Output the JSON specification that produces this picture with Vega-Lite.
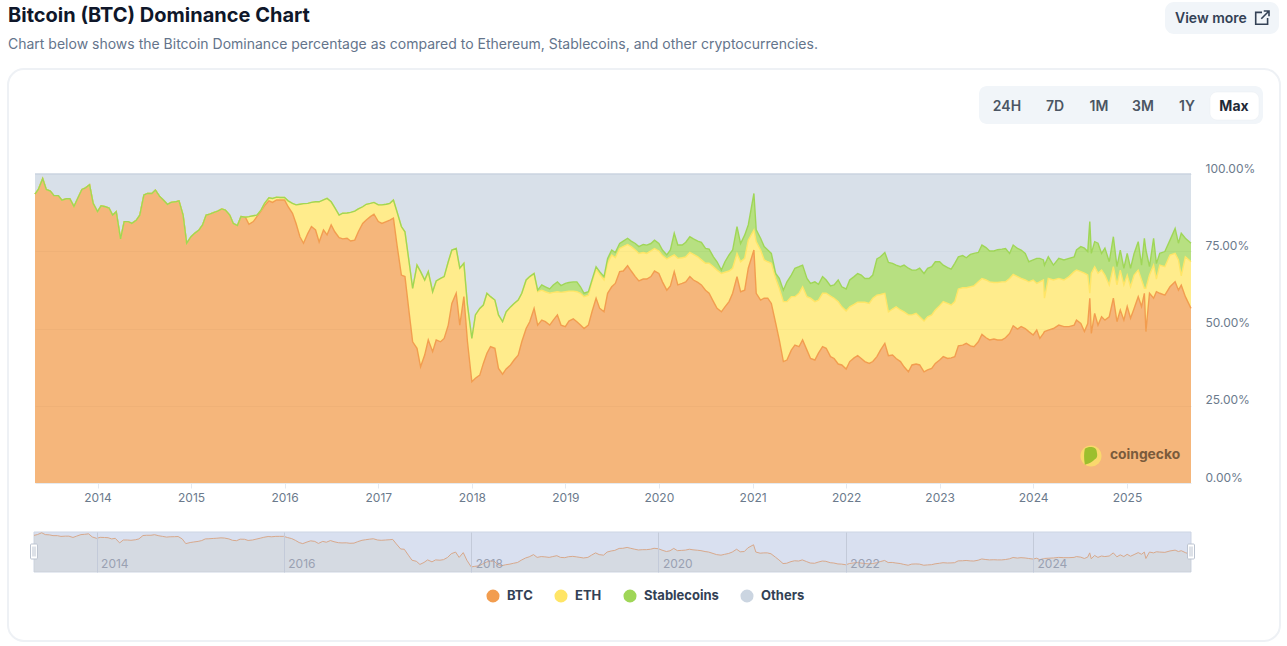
{"$schema":"https://vega.github.io/schema/vega-lite/v6.json","width":1287,"height":646,"padding":0,"autosize":"none","background":"#ffffff","config":{"font":"Inter","view":{"stroke":null}},
"datasets":{"dom":[
{"d":"2013-05-02","BTC":93.5,"ETH":0,"Stablecoins":0,"Others":6.5},{"d":"2013-05-15","BTC":95,"ETH":0,"Stablecoins":0,"Others":5},{"d":"2013-06-01","BTC":98.5,"ETH":0,"Stablecoins":0,"Others":1.5},{"d":"2013-06-15","BTC":95,"ETH":0,"Stablecoins":0,"Others":5},{"d":"2013-07-01","BTC":94.5,"ETH":0,"Stablecoins":0,"Others":5.5},{"d":"2013-07-15","BTC":93,"ETH":0,"Stablecoins":0,"Others":7},{"d":"2013-08-01","BTC":93,"ETH":0,"Stablecoins":0,"Others":7},{"d":"2013-08-15","BTC":91.5,"ETH":0,"Stablecoins":0,"Others":8.5},{"d":"2013-09-01","BTC":92,"ETH":0,"Stablecoins":0,"Others":8},{"d":"2013-09-15","BTC":92,"ETH":0,"Stablecoins":0,"Others":8},{"d":"2013-10-01","BTC":89.5,"ETH":0,"Stablecoins":0,"Others":10.5},{"d":"2013-10-15","BTC":92,"ETH":0,"Stablecoins":0,"Others":8},{"d":"2013-11-01","BTC":95,"ETH":0,"Stablecoins":0,"Others":5},{"d":"2013-11-15","BTC":95.5,"ETH":0,"Stablecoins":0,"Others":4.5},{"d":"2013-12-01","BTC":96.5,"ETH":0,"Stablecoins":0,"Others":3.5},{"d":"2013-12-15","BTC":90.5,"ETH":0,"Stablecoins":0,"Others":9.5},
{"d":"2014-01-01","BTC":87.8,"ETH":0,"Stablecoins":0,"Others":12.2},{"d":"2014-01-15","BTC":89.7,"ETH":0,"Stablecoins":0,"Others":10.3},{"d":"2014-02-01","BTC":89.4,"ETH":0,"Stablecoins":0,"Others":10.6},{"d":"2014-02-15","BTC":89,"ETH":0,"Stablecoins":0,"Others":11},{"d":"2014-03-01","BTC":86.7,"ETH":0,"Stablecoins":0,"Others":13.3},{"d":"2014-03-15","BTC":87.8,"ETH":0,"Stablecoins":0,"Others":12.2},{"d":"2014-04-01","BTC":79,"ETH":0,"Stablecoins":0,"Others":21},{"d":"2014-04-15","BTC":84.6,"ETH":0,"Stablecoins":0,"Others":15.4},{"d":"2014-05-01","BTC":84.6,"ETH":0,"Stablecoins":0,"Others":15.4},{"d":"2014-05-15","BTC":84,"ETH":0,"Stablecoins":0,"Others":16},{"d":"2014-06-01","BTC":85,"ETH":0,"Stablecoins":0,"Others":15},{"d":"2014-06-15","BTC":86.7,"ETH":0,"Stablecoins":0,"Others":13.3},{"d":"2014-07-01","BTC":93.2,"ETH":0,"Stablecoins":0,"Others":6.8},{"d":"2014-07-15","BTC":93.7,"ETH":0,"Stablecoins":0,"Others":6.3},{"d":"2014-08-01","BTC":93.7,"ETH":0,"Stablecoins":0,"Others":6.3},{"d":"2014-08-15","BTC":94.8,"ETH":0,"Stablecoins":0,"Others":5.2},{"d":"2014-09-01","BTC":92.7,"ETH":0,"Stablecoins":0,"Others":7.3},{"d":"2014-09-15","BTC":91.6,"ETH":0,"Stablecoins":0,"Others":8.4},{"d":"2014-10-01","BTC":90.2,"ETH":0,"Stablecoins":0,"Others":9.8},{"d":"2014-10-15","BTC":90.8,"ETH":0,"Stablecoins":0,"Others":9.2},{"d":"2014-11-01","BTC":91,"ETH":0,"Stablecoins":0,"Others":9},{"d":"2014-11-15","BTC":91.3,"ETH":0,"Stablecoins":0,"Others":8.7},{"d":"2014-12-01","BTC":86.7,"ETH":0,"Stablecoins":0,"Others":13.3},{"d":"2014-12-15","BTC":77.6,"ETH":0,"Stablecoins":0,"Others":22.4},
{"d":"2015-01-01","BTC":79.7,"ETH":0,"Stablecoins":0,"Others":20.3},{"d":"2015-01-15","BTC":80.8,"ETH":0,"Stablecoins":0,"Others":19.2},{"d":"2015-02-01","BTC":81.9,"ETH":0,"Stablecoins":0,"Others":18.1},{"d":"2015-02-15","BTC":83.5,"ETH":0,"Stablecoins":0,"Others":16.5},{"d":"2015-03-01","BTC":86.7,"ETH":0,"Stablecoins":0,"Others":13.3},{"d":"2015-03-15","BTC":87,"ETH":0,"Stablecoins":0,"Others":13},{"d":"2015-04-01","BTC":87.6,"ETH":0,"Stablecoins":0,"Others":12.4},{"d":"2015-04-15","BTC":88,"ETH":0,"Stablecoins":0,"Others":12},{"d":"2015-05-01","BTC":88.7,"ETH":0,"Stablecoins":0,"Others":11.3},{"d":"2015-05-15","BTC":88.3,"ETH":0,"Stablecoins":0,"Others":11.7},{"d":"2015-06-01","BTC":86.7,"ETH":0,"Stablecoins":0,"Others":13.3},{"d":"2015-06-15","BTC":84,"ETH":0,"Stablecoins":0,"Others":16},{"d":"2015-07-01","BTC":83.3,"ETH":0,"Stablecoins":0,"Others":16.7},{"d":"2015-07-15","BTC":86.2,"ETH":0,"Stablecoins":0,"Others":13.8},{"d":"2015-08-01","BTC":86,"ETH":0,"Stablecoins":0,"Others":14},{"d":"2015-08-15","BTC":83.7,"ETH":2.5,"Stablecoins":0,"Others":13.8},{"d":"2015-09-01","BTC":84.6,"ETH":1.9,"Stablecoins":0,"Others":13.5},{"d":"2015-09-15","BTC":86.2,"ETH":0.5,"Stablecoins":0,"Others":13.3},{"d":"2015-10-01","BTC":88,"ETH":0.3,"Stablecoins":0,"Others":11.7},{"d":"2015-10-15","BTC":89.8,"ETH":0.7,"Stablecoins":0,"Others":9.5},{"d":"2015-11-01","BTC":91.3,"ETH":1,"Stablecoins":0,"Others":7.7},{"d":"2015-11-15","BTC":90.8,"ETH":1.3,"Stablecoins":0,"Others":7.9},{"d":"2015-12-01","BTC":91.6,"ETH":0.9,"Stablecoins":0,"Others":7.5},{"d":"2015-12-15","BTC":91.6,"ETH":0.8,"Stablecoins":0,"Others":7.6},
{"d":"2016-01-01","BTC":91.6,"ETH":0.8,"Stablecoins":0,"Others":7.6},{"d":"2016-01-15","BTC":89.4,"ETH":1.9,"Stablecoins":0,"Others":8.7},{"d":"2016-02-01","BTC":87.3,"ETH":3.2,"Stablecoins":0,"Others":9.5},{"d":"2016-02-15","BTC":84,"ETH":6,"Stablecoins":0,"Others":10},{"d":"2016-03-01","BTC":79.7,"ETH":10.5,"Stablecoins":0,"Others":9.8},{"d":"2016-03-15","BTC":77.6,"ETH":12.8,"Stablecoins":0,"Others":9.6},{"d":"2016-04-01","BTC":80.8,"ETH":9.7,"Stablecoins":0,"Others":9.5},{"d":"2016-04-15","BTC":83,"ETH":7.8,"Stablecoins":0,"Others":9.2},{"d":"2016-05-01","BTC":81.9,"ETH":9.1,"Stablecoins":0,"Others":9},{"d":"2016-05-15","BTC":78,"ETH":13,"Stablecoins":0,"Others":9},{"d":"2016-06-01","BTC":81.9,"ETH":9.7,"Stablecoins":0,"Others":8.4},{"d":"2016-06-15","BTC":80.3,"ETH":11.8,"Stablecoins":0,"Others":7.9},{"d":"2016-07-01","BTC":83.5,"ETH":7.5,"Stablecoins":0,"Others":9},{"d":"2016-07-15","BTC":81.3,"ETH":7.8,"Stablecoins":0,"Others":10.9},{"d":"2016-08-01","BTC":79.4,"ETH":7.3,"Stablecoins":0,"Others":13.3},{"d":"2016-08-15","BTC":79,"ETH":8.3,"Stablecoins":0,"Others":12.7},{"d":"2016-09-01","BTC":79.2,"ETH":8.2,"Stablecoins":0,"Others":12.6},{"d":"2016-09-15","BTC":78.3,"ETH":9.3,"Stablecoins":0,"Others":12.4},{"d":"2016-10-01","BTC":78.6,"ETH":9.4,"Stablecoins":0,"Others":12},{"d":"2016-10-15","BTC":81.3,"ETH":7.4,"Stablecoins":0,"Others":11.3},{"d":"2016-11-01","BTC":84,"ETH":5.4,"Stablecoins":0,"Others":10.6},{"d":"2016-11-15","BTC":85.1,"ETH":5.1,"Stablecoins":0,"Others":9.8},{"d":"2016-12-01","BTC":86.2,"ETH":4.3,"Stablecoins":0,"Others":9.5},{"d":"2016-12-15","BTC":87,"ETH":3.8,"Stablecoins":0,"Others":9.2},
{"d":"2017-01-01","BTC":84.6,"ETH":5.4,"Stablecoins":0,"Others":10},{"d":"2017-01-15","BTC":84,"ETH":6,"Stablecoins":0,"Others":10},{"d":"2017-02-01","BTC":84.6,"ETH":5.6,"Stablecoins":0,"Others":9.8},{"d":"2017-02-15","BTC":85.1,"ETH":5.4,"Stablecoins":0,"Others":9.5},{"d":"2017-03-01","BTC":85.7,"ETH":5.9,"Stablecoins":0,"Others":8.4},{"d":"2017-03-15","BTC":77,"ETH":10.8,"Stablecoins":0,"Others":12.2},{"d":"2017-04-01","BTC":67.3,"ETH":15.7,"Stablecoins":0,"Others":17},{"d":"2017-04-15","BTC":66.8,"ETH":14.5,"Stablecoins":0,"Others":18.7},{"d":"2017-05-01","BTC":55.4,"ETH":16.2,"Stablecoins":0,"Others":28.4},{"d":"2017-05-15","BTC":45.7,"ETH":17.3,"Stablecoins":0,"Others":37},{"d":"2017-06-01","BTC":43.6,"ETH":26.9,"Stablecoins":0,"Others":29.5},{"d":"2017-06-15","BTC":37.6,"ETH":30.8,"Stablecoins":0,"Others":31.6},{"d":"2017-07-01","BTC":41.4,"ETH":24.3,"Stablecoins":0,"Others":34.3},{"d":"2017-07-15","BTC":46.3,"ETH":22.1,"Stablecoins":0,"Others":31.6},{"d":"2017-08-01","BTC":42.5,"ETH":19.4,"Stablecoins":0,"Others":38.1},{"d":"2017-08-15","BTC":46.3,"ETH":19.1,"Stablecoins":0,"Others":34.6},{"d":"2017-09-01","BTC":45.7,"ETH":20.5,"Stablecoins":0,"Others":33.8},{"d":"2017-09-15","BTC":46.8,"ETH":20,"Stablecoins":0,"Others":33.2},{"d":"2017-10-01","BTC":51.1,"ETH":20.5,"Stablecoins":0,"Others":28.4},{"d":"2017-10-15","BTC":58.1,"ETH":17.3,"Stablecoins":0,"Others":24.6},{"d":"2017-11-01","BTC":61.4,"ETH":14.5,"Stablecoins":0,"Others":24.1},{"d":"2017-11-15","BTC":51.1,"ETH":18.4,"Stablecoins":0,"Others":30.5},{"d":"2017-12-01","BTC":60.3,"ETH":10.8,"Stablecoins":0,"Others":28.9},{"d":"2017-12-15","BTC":45.7,"ETH":11.9,"Stablecoins":0,"Others":42.4},
{"d":"2018-01-01","BTC":32.8,"ETH":14,"Stablecoins":0,"Others":53.2},{"d":"2018-01-15","BTC":33.9,"ETH":20.5,"Stablecoins":0,"Others":45.6},{"d":"2018-02-01","BTC":34.9,"ETH":21.6,"Stablecoins":0,"Others":43.5},{"d":"2018-02-15","BTC":38.7,"ETH":18.9,"Stablecoins":0,"Others":42.4},{"d":"2018-03-01","BTC":42,"ETH":19.4,"Stablecoins":0,"Others":38.6},{"d":"2018-03-15","BTC":44.1,"ETH":16.2,"Stablecoins":0,"Others":39.7},{"d":"2018-04-01","BTC":43.6,"ETH":15.6,"Stablecoins":0,"Others":40.8},{"d":"2018-04-15","BTC":37.1,"ETH":17.3,"Stablecoins":0,"Others":45.6},{"d":"2018-05-01","BTC":35.2,"ETH":17,"Stablecoins":0,"Others":47.8},{"d":"2018-05-15","BTC":36.9,"ETH":18.5,"Stablecoins":0,"Others":44.6},{"d":"2018-06-01","BTC":38.2,"ETH":18.8,"Stablecoins":0,"Others":43},{"d":"2018-06-15","BTC":39.8,"ETH":18.3,"Stablecoins":0,"Others":41.9},{"d":"2018-07-01","BTC":41.4,"ETH":17.8,"Stablecoins":0,"Others":40.8},{"d":"2018-07-15","BTC":45.7,"ETH":15.7,"Stablecoins":0,"Others":38.6},{"d":"2018-08-01","BTC":50,"ETH":15.7,"Stablecoins":0,"Others":34.3},{"d":"2018-08-15","BTC":52.2,"ETH":14.6,"Stablecoins":0,"Others":33.2},{"d":"2018-09-01","BTC":56.5,"ETH":11.3,"Stablecoins":0,"Others":32.2},{"d":"2018-09-15","BTC":51.1,"ETH":10.8,"Stablecoins":0.5,"Others":37.6},{"d":"2018-10-01","BTC":52.7,"ETH":9.7,"Stablecoins":1.7,"Others":35.9},{"d":"2018-10-15","BTC":52.2,"ETH":9.7,"Stablecoins":1.6,"Others":36.5},{"d":"2018-11-01","BTC":51.1,"ETH":10.3,"Stablecoins":1.4,"Others":37.2},{"d":"2018-11-15","BTC":52.7,"ETH":9,"Stablecoins":2.4,"Others":35.9},{"d":"2018-12-01","BTC":54.4,"ETH":7.5,"Stablecoins":3.2,"Others":34.9},{"d":"2018-12-15","BTC":51.1,"ETH":10.6,"Stablecoins":2.2,"Others":36.1},
{"d":"2019-01-01","BTC":50.6,"ETH":11.3,"Stablecoins":2.7,"Others":35.4},{"d":"2019-01-15","BTC":52.4,"ETH":9.7,"Stablecoins":2.8,"Others":35.1},{"d":"2019-02-01","BTC":53.1,"ETH":9,"Stablecoins":3,"Others":34.9},{"d":"2019-02-15","BTC":52.2,"ETH":9.7,"Stablecoins":3.2,"Others":34.9},{"d":"2019-03-01","BTC":51.1,"ETH":10.3,"Stablecoins":2.1,"Others":36.5},{"d":"2019-03-15","BTC":50,"ETH":10.3,"Stablecoins":1.1,"Others":38.6},{"d":"2019-04-01","BTC":51.1,"ETH":9.7,"Stablecoins":1.1,"Others":38.1},{"d":"2019-04-15","BTC":55.4,"ETH":9.7,"Stablecoins":0.6,"Others":34.3},{"d":"2019-05-01","BTC":59.8,"ETH":9.4,"Stablecoins":0.8,"Others":30},{"d":"2019-05-15","BTC":56.5,"ETH":11,"Stablecoins":0.9,"Others":31.6},{"d":"2019-06-01","BTC":55.4,"ETH":10.3,"Stablecoins":1.1,"Others":33.2},{"d":"2019-06-15","BTC":61.4,"ETH":9.7,"Stablecoins":1.6,"Others":27.3},{"d":"2019-07-01","BTC":63.5,"ETH":10.3,"Stablecoins":1.6,"Others":24.6},{"d":"2019-07-15","BTC":64.6,"ETH":8.3,"Stablecoins":1.7,"Others":25.4},{"d":"2019-08-01","BTC":68.4,"ETH":7.5,"Stablecoins":1.6,"Others":22.5},{"d":"2019-08-15","BTC":68.6,"ETH":7.9,"Stablecoins":1.8,"Others":21.7},{"d":"2019-09-01","BTC":70.3,"ETH":6.9,"Stablecoins":2,"Others":20.8},{"d":"2019-09-15","BTC":68.6,"ETH":7.9,"Stablecoins":1.8,"Others":21.7},{"d":"2019-10-01","BTC":66.8,"ETH":8.6,"Stablecoins":2.1,"Others":22.5},{"d":"2019-10-15","BTC":65.4,"ETH":8.9,"Stablecoins":2.2,"Others":23.5},{"d":"2019-11-01","BTC":66,"ETH":8.6,"Stablecoins":2.6,"Others":22.8},{"d":"2019-11-15","BTC":66,"ETH":8.3,"Stablecoins":2.7,"Others":23},{"d":"2019-12-01","BTC":66.8,"ETH":8.3,"Stablecoins":2.4,"Others":22.5},{"d":"2019-12-15","BTC":68.6,"ETH":7.3,"Stablecoins":2.7,"Others":21.4},
{"d":"2020-01-01","BTC":67.8,"ETH":7.3,"Stablecoins":2.4,"Others":22.5},{"d":"2020-01-15","BTC":65.1,"ETH":8.5,"Stablecoins":1.8,"Others":24.6},{"d":"2020-02-01","BTC":62.4,"ETH":10.1,"Stablecoins":1.3,"Others":26.2},{"d":"2020-02-15","BTC":63.8,"ETH":9.4,"Stablecoins":2.2,"Others":24.6},{"d":"2020-03-01","BTC":68.4,"ETH":5.4,"Stablecoins":7,"Others":19.2},{"d":"2020-03-15","BTC":64.1,"ETH":8.6,"Stablecoins":4.3,"Others":23},{"d":"2020-04-01","BTC":64.6,"ETH":8.3,"Stablecoins":4.1,"Others":23},{"d":"2020-04-15","BTC":65.1,"ETH":8.1,"Stablecoins":4.7,"Others":22.1},{"d":"2020-05-01","BTC":66.8,"ETH":7.8,"Stablecoins":5.1,"Others":20.3},{"d":"2020-05-15","BTC":65.7,"ETH":8.3,"Stablecoins":5,"Others":21},{"d":"2020-06-01","BTC":64.9,"ETH":8.3,"Stablecoins":5.1,"Others":21.7},{"d":"2020-06-15","BTC":64.1,"ETH":8.1,"Stablecoins":5.7,"Others":22.1},{"d":"2020-07-01","BTC":62.4,"ETH":8.7,"Stablecoins":4.8,"Others":24.1},{"d":"2020-07-15","BTC":61.4,"ETH":9.7,"Stablecoins":4.6,"Others":24.3},{"d":"2020-08-01","BTC":58.7,"ETH":11.3,"Stablecoins":3.2,"Others":26.8},{"d":"2020-08-15","BTC":56.5,"ETH":12.4,"Stablecoins":2.7,"Others":28.4},{"d":"2020-09-01","BTC":55.4,"ETH":12.4,"Stablecoins":1.1,"Others":31.1},{"d":"2020-09-15","BTC":57,"ETH":11.2,"Stablecoins":3.4,"Others":28.4},{"d":"2020-10-01","BTC":58.7,"ETH":9.9,"Stablecoins":5.2,"Others":26.2},{"d":"2020-10-15","BTC":61.4,"ETH":8.1,"Stablecoins":5.9,"Others":24.6},{"d":"2020-11-01","BTC":66.8,"ETH":7.5,"Stablecoins":8.7,"Others":17},{"d":"2020-11-15","BTC":61.9,"ETH":9.7,"Stablecoins":5.9,"Others":22.5},{"d":"2020-12-01","BTC":62.4,"ETH":10.3,"Stablecoins":7.5,"Others":19.8},{"d":"2020-12-15","BTC":69.5,"ETH":9.1,"Stablecoins":4.9,"Others":16.5},
{"d":"2021-01-06","BTC":75.4,"ETH":6.5,"Stablecoins":11.8,"Others":6.3},{"d":"2021-01-15","BTC":61.4,"ETH":16.7,"Stablecoins":3.8,"Others":18.1},{"d":"2021-02-01","BTC":59.2,"ETH":16.2,"Stablecoins":3.8,"Others":20.8},{"d":"2021-02-15","BTC":59.8,"ETH":12.4,"Stablecoins":4.3,"Others":23.5},{"d":"2021-03-01","BTC":59.8,"ETH":11.8,"Stablecoins":3.8,"Others":24.6},{"d":"2021-03-15","BTC":58.1,"ETH":13,"Stablecoins":3.2,"Others":25.7},{"d":"2021-04-01","BTC":51.7,"ETH":14.5,"Stablecoins":1.6,"Others":32.2},{"d":"2021-04-15","BTC":46.3,"ETH":16.7,"Stablecoins":3.2,"Others":33.8},{"d":"2021-05-01","BTC":39.3,"ETH":19.4,"Stablecoins":3.7,"Others":37.6},{"d":"2021-05-15","BTC":39.8,"ETH":18.9,"Stablecoins":6.4,"Others":34.9},{"d":"2021-06-01","BTC":43,"ETH":17.3,"Stablecoins":7,"Others":32.7},{"d":"2021-06-15","BTC":44.6,"ETH":15.7,"Stablecoins":9.2,"Others":30.5},{"d":"2021-07-01","BTC":44.1,"ETH":17.3,"Stablecoins":8.6,"Others":30},{"d":"2021-07-15","BTC":46.3,"ETH":17.2,"Stablecoins":7,"Others":29.5},{"d":"2021-08-01","BTC":43,"ETH":17.3,"Stablecoins":5.9,"Others":33.8},{"d":"2021-08-15","BTC":40.3,"ETH":19.5,"Stablecoins":4.8,"Others":35.4},{"d":"2021-09-01","BTC":39.8,"ETH":18.9,"Stablecoins":6.4,"Others":34.9},{"d":"2021-09-15","BTC":42,"ETH":17.2,"Stablecoins":5.1,"Others":35.7},{"d":"2021-10-01","BTC":44.1,"ETH":17.3,"Stablecoins":5.4,"Others":33.2},{"d":"2021-10-15","BTC":43.6,"ETH":17.8,"Stablecoins":4.3,"Others":34.3},{"d":"2021-11-01","BTC":40.9,"ETH":19.6,"Stablecoins":3.3,"Others":36.2},{"d":"2021-11-15","BTC":40.3,"ETH":19.5,"Stablecoins":4.3,"Others":35.9},{"d":"2021-12-01","BTC":38.5,"ETH":20.2,"Stablecoins":7,"Others":34.3},{"d":"2021-12-15","BTC":38.2,"ETH":18.8,"Stablecoins":6.5,"Others":36.5},
{"d":"2022-01-01","BTC":36.9,"ETH":18.8,"Stablecoins":7.1,"Others":37.2},{"d":"2022-01-15","BTC":39.3,"ETH":17.7,"Stablecoins":8.7,"Others":34.3},{"d":"2022-02-01","BTC":40.5,"ETH":17.3,"Stablecoins":9,"Others":33.2},{"d":"2022-02-15","BTC":41.2,"ETH":17.3,"Stablecoins":9.3,"Others":32.2},{"d":"2022-03-01","BTC":40.3,"ETH":18.2,"Stablecoins":8.8,"Others":32.7},{"d":"2022-03-15","BTC":39.3,"ETH":19.2,"Stablecoins":7.7,"Others":33.8},{"d":"2022-04-01","BTC":38.7,"ETH":19.4,"Stablecoins":8.1,"Others":33.8},{"d":"2022-04-15","BTC":39.3,"ETH":20.5,"Stablecoins":7.5,"Others":32.7},{"d":"2022-05-01","BTC":40.9,"ETH":19.9,"Stablecoins":11.7,"Others":27.5},{"d":"2022-05-15","BTC":43,"ETH":18,"Stablecoins":12.2,"Others":26.8},{"d":"2022-06-01","BTC":45.2,"ETH":16.2,"Stablecoins":13.2,"Others":25.4},{"d":"2022-06-15","BTC":41.2,"ETH":14.2,"Stablecoins":16,"Others":28.6},{"d":"2022-07-01","BTC":41.4,"ETH":14.9,"Stablecoins":14.8,"Others":28.9},{"d":"2022-07-15","BTC":40.3,"ETH":16.7,"Stablecoins":13.5,"Others":29.5},{"d":"2022-08-01","BTC":39.3,"ETH":16.7,"Stablecoins":14,"Others":30},{"d":"2022-08-15","BTC":37.6,"ETH":17.8,"Stablecoins":15.1,"Others":29.5},{"d":"2022-09-01","BTC":36,"ETH":18.4,"Stablecoins":15.1,"Others":30.5},{"d":"2022-09-15","BTC":38.2,"ETH":16.2,"Stablecoins":14.5,"Others":31.1},{"d":"2022-10-01","BTC":38.5,"ETH":16.4,"Stablecoins":14,"Others":31.1},{"d":"2022-10-15","BTC":38.2,"ETH":15.6,"Stablecoins":15.7,"Others":30.5},{"d":"2022-11-01","BTC":36,"ETH":16.4,"Stablecoins":15.4,"Others":32.2},{"d":"2022-11-15","BTC":36.6,"ETH":17.2,"Stablecoins":15.7,"Others":30.5},{"d":"2022-12-01","BTC":37.1,"ETH":17.3,"Stablecoins":15.6,"Others":30},{"d":"2022-12-15","BTC":38.7,"ETH":17.3,"Stablecoins":15.6,"Others":28.4},
{"d":"2023-01-01","BTC":39.8,"ETH":17.6,"Stablecoins":14.2,"Others":28.4},{"d":"2023-01-15","BTC":40.9,"ETH":17.8,"Stablecoins":11.8,"Others":29.5},{"d":"2023-02-01","BTC":40.3,"ETH":17.8,"Stablecoins":11.6,"Others":30.3},{"d":"2023-02-15","BTC":40.5,"ETH":17.1,"Stablecoins":11.6,"Others":30.8},{"d":"2023-03-01","BTC":40.9,"ETH":17.8,"Stablecoins":12.4,"Others":28.9},{"d":"2023-03-15","BTC":44.4,"ETH":18.4,"Stablecoins":10.4,"Others":26.8},{"d":"2023-04-01","BTC":44.6,"ETH":18.6,"Stablecoins":10.4,"Others":26.4},{"d":"2023-04-15","BTC":45.2,"ETH":18,"Stablecoins":9.7,"Others":27.1},{"d":"2023-05-01","BTC":44.4,"ETH":19.1,"Stablecoins":10.5,"Others":26},{"d":"2023-05-15","BTC":44.1,"ETH":19.7,"Stablecoins":10.5,"Others":25.7},{"d":"2023-06-01","BTC":45.7,"ETH":19.4,"Stablecoins":9.5,"Others":25.4},{"d":"2023-06-15","BTC":48.1,"ETH":18.1,"Stablecoins":10.8,"Others":23},{"d":"2023-07-01","BTC":47,"ETH":18.7,"Stablecoins":10.5,"Others":23.8},{"d":"2023-07-15","BTC":46.3,"ETH":18.8,"Stablecoins":10,"Others":24.9},{"d":"2023-08-01","BTC":46.6,"ETH":18.3,"Stablecoins":10.2,"Others":24.9},{"d":"2023-08-15","BTC":46.3,"ETH":18.6,"Stablecoins":10.6,"Others":24.5},{"d":"2023-09-01","BTC":46.3,"ETH":18.8,"Stablecoins":10.6,"Others":24.3},{"d":"2023-09-15","BTC":47,"ETH":18.1,"Stablecoins":10.8,"Others":24.1},{"d":"2023-10-01","BTC":48.4,"ETH":17.8,"Stablecoins":8.1,"Others":25.7},{"d":"2023-10-15","BTC":50.9,"ETH":16.6,"Stablecoins":9.5,"Others":23},{"d":"2023-11-01","BTC":49.8,"ETH":17,"Stablecoins":9.1,"Others":24.1},{"d":"2023-11-15","BTC":50.6,"ETH":15.6,"Stablecoins":9.2,"Others":24.6},{"d":"2023-12-01","BTC":50,"ETH":15.7,"Stablecoins":8.6,"Others":25.7},{"d":"2023-12-15","BTC":49,"ETH":16.1,"Stablecoins":6.5,"Others":28.4},
{"d":"2024-01-01","BTC":47.9,"ETH":17.8,"Stablecoins":6.5,"Others":27.8},{"d":"2024-01-15","BTC":49.5,"ETH":15.1,"Stablecoins":8.1,"Others":27.3},{"d":"2024-01-27","BTC":46.8,"ETH":18.3,"Stablecoins":7.6,"Others":27.3},{"d":"2024-02-10","BTC":48.4,"ETH":17.3,"Stablecoins":6.5,"Others":27.8},{"d":"2024-02-14","BTC":49,"ETH":10.8,"Stablecoins":10.7,"Others":29.5},{"d":"2024-02-29","BTC":49.5,"ETH":16.7,"Stablecoins":7,"Others":26.8},{"d":"2024-03-20","BTC":50,"ETH":15.7,"Stablecoins":4.8,"Others":29.5},{"d":"2024-04-10","BTC":51.1,"ETH":15.1,"Stablecoins":6.5,"Others":27.3},{"d":"2024-04-30","BTC":50.6,"ETH":15.1,"Stablecoins":6.5,"Others":27.8},{"d":"2024-05-20","BTC":50.6,"ETH":16.2,"Stablecoins":5.9,"Others":27.3},{"d":"2024-06-09","BTC":51.1,"ETH":17.3,"Stablecoins":4.8,"Others":26.8},{"d":"2024-06-18","BTC":52.7,"ETH":16.2,"Stablecoins":6.5,"Others":24.6},{"d":"2024-07-05","BTC":51.6,"ETH":16.8,"Stablecoins":8.1,"Others":23.5},{"d":"2024-07-19","BTC":49,"ETH":18.9,"Stablecoins":8.1,"Others":24},{"d":"2024-08-01","BTC":51.6,"ETH":15.7,"Stablecoins":7.6,"Others":25.1},{"d":"2024-08-09","BTC":59.8,"ETH":1.6,"Stablecoins":23.2,"Others":15.4},{"d":"2024-08-15","BTC":48.4,"ETH":19.5,"Stablecoins":6.4,"Others":25.7},{"d":"2024-08-28","BTC":54.9,"ETH":15.1,"Stablecoins":8.1,"Others":21.9},{"d":"2024-09-10","BTC":51.1,"ETH":16.8,"Stablecoins":9.7,"Others":22.4},{"d":"2024-09-24","BTC":53.8,"ETH":15.1,"Stablecoins":5.4,"Others":25.7},{"d":"2024-10-07","BTC":52.7,"ETH":14.6,"Stablecoins":8.7,"Others":24},{"d":"2024-10-24","BTC":53.8,"ETH":10.3,"Stablecoins":7.5,"Others":28.4},{"d":"2024-11-09","BTC":59.8,"ETH":10.2,"Stablecoins":9.7,"Others":20.3},{"d":"2024-11-23","BTC":52.2,"ETH":11.9,"Stablecoins":5.9,"Others":30},{"d":"2024-12-06","BTC":56,"ETH":12.9,"Stablecoins":6.5,"Others":24.6},{"d":"2024-12-20","BTC":52.7,"ETH":11.4,"Stablecoins":5.4,"Others":30.5},
{"d":"2025-01-02","BTC":57.1,"ETH":10.2,"Stablecoins":7,"Others":25.7},{"d":"2025-01-15","BTC":53.3,"ETH":10.2,"Stablecoins":6,"Others":30.5},{"d":"2025-01-29","BTC":56.5,"ETH":10.8,"Stablecoins":7,"Others":25.7},{"d":"2025-02-14","BTC":60.3,"ETH":8.6,"Stablecoins":9.2,"Others":21.9},{"d":"2025-02-27","BTC":57.1,"ETH":8.6,"Stablecoins":4.8,"Others":29.5},{"d":"2025-03-10","BTC":61.4,"ETH":1.6,"Stablecoins":16.2,"Others":20.8},{"d":"2025-03-16","BTC":49,"ETH":14,"Stablecoins":12.4,"Others":24.6},{"d":"2025-03-30","BTC":61.4,"ETH":5.9,"Stablecoins":2.7,"Others":30},{"d":"2025-04-15","BTC":59.8,"ETH":10.7,"Stablecoins":8.7,"Others":20.8},{"d":"2025-04-26","BTC":61.9,"ETH":4.1,"Stablecoins":5,"Others":29},{"d":"2025-05-09","BTC":61.4,"ETH":9.1,"Stablecoins":3.8,"Others":25.7},{"d":"2025-05-29","BTC":60.8,"ETH":9.2,"Stablecoins":4.9,"Others":25.1},{"d":"2025-06-18","BTC":63.5,"ETH":10.3,"Stablecoins":4.8,"Others":21.4},{"d":"2025-07-08","BTC":65.1,"ETH":9.2,"Stablecoins":8.1,"Others":17.6},{"d":"2025-07-21","BTC":62.4,"ETH":9.8,"Stablecoins":5.4,"Others":22.4},{"d":"2025-08-01","BTC":64,"ETH":3,"Stablecoins":13.8,"Others":19.2},{"d":"2025-08-17","BTC":60.3,"ETH":12.9,"Stablecoins":6,"Others":20.8},{"d":"2025-09-08","BTC":56.5,"ETH":15.1,"Stablecoins":6,"Others":22.4}
]},
"layer":[
{"data":{"values":[{"t":"card"}]},"mark":{"type":"rect","fill":"transparent","stroke":"#EEF1F5","strokeWidth":2,"cornerRadius":16},"encoding":{"x":{"field":"t","type":"nominal","scale":{"type":"band","domain":["card"],"range":[8,1280],"paddingInner":0,"paddingOuter":0},"axis":null},"y":{"field":"t","type":"nominal","scale":{"type":"band","domain":["card"],"range":[69,641],"paddingInner":0,"paddingOuter":0},"axis":null}}},
{"data":{"values":[{"t":"more"}]},"mark":{"type":"rect","fill":"#F1F5F9","cornerRadius":9},"encoding":{"x":{"field":"t","type":"nominal","scale":{"type":"band","domain":["more"],"range":[1165,1279],"paddingInner":0,"paddingOuter":0},"axis":null},"y":{"field":"t","type":"nominal","scale":{"type":"band","domain":["more"],"range":[2,34],"paddingInner":0,"paddingOuter":0},"axis":null}}},
{"data":{"values":[{"t":"tabs"}]},"mark":{"type":"rect","fill":"#F1F5F9","cornerRadius":8},"encoding":{"x":{"field":"t","type":"nominal","scale":{"type":"band","domain":["tabs"],"range":[979,1263],"paddingInner":0,"paddingOuter":0},"axis":null},"y":{"field":"t","type":"nominal","scale":{"type":"band","domain":["tabs"],"range":[86,124],"paddingInner":0,"paddingOuter":0},"axis":null}}},
{"data":{"values":[{"t":"active"}]},"mark":{"type":"rect","fill":"#ffffff","cornerRadius":7,"stroke":"#E8ECF1","strokeWidth":0.5},"encoding":{"x":{"field":"t","type":"nominal","scale":{"type":"band","domain":["active"],"range":[1210,1259],"paddingInner":0,"paddingOuter":0},"axis":null},"y":{"field":"t","type":"nominal","scale":{"type":"band","domain":["active"],"range":[92,120],"paddingInner":0,"paddingOuter":0},"axis":null}}},
{"data":{"values":[{"t":"Bitcoin (BTC) Dominance Chart"}]},"mark":{"type":"text","align":"left","font":"Inter","fontSize":20,"fontWeight":700,"color":"#0F172A"},"encoding":{"text":{"field":"t"},"x":{"field":"t","type":"nominal","scale":{"type":"point","range":[8,8],"padding":0},"axis":null},"y":{"field":"t","type":"nominal","scale":{"type":"point","range":[16,16],"padding":0},"axis":null}}},
{"data":{"values":[{"t":"Chart below shows the Bitcoin Dominance percentage as compared to Ethereum, Stablecoins, and other cryptocurrencies."}]},"mark":{"type":"text","align":"left","font":"Inter","fontSize":14,"color":"#64748B"},"encoding":{"text":{"field":"t"},"x":{"field":"t","type":"nominal","scale":{"type":"point","range":[8,8],"padding":0},"axis":null},"y":{"field":"t","type":"nominal","scale":{"type":"point","range":[45,45],"padding":0},"axis":null}}},
{"data":{"values":[{"t":"View more"}]},"mark":{"type":"text","align":"left","font":"Inter","fontSize":14,"fontWeight":600,"color":"#334155"},"encoding":{"text":{"field":"t"},"x":{"field":"t","type":"nominal","scale":{"type":"point","range":[1175,1175],"padding":0},"axis":null},"y":{"field":"t","type":"nominal","scale":{"type":"point","range":[19,19],"padding":0},"axis":null}}},
{"data":{"values":[{"t":"icon"}]},"mark":{"type":"point","filled":false,"size":196,"opacity":1,"stroke":"#334155","strokeWidth":1.6,"shape":"M0.0,-0.8 H-0.9 V0.9 H0.8 V0.0 M0.25,-1 H1 V-0.25 M1,-1 L-0.1,0.1"},"encoding":{"x":{"field":"t","type":"nominal","scale":{"type":"point","range":[1262,1262],"padding":0},"axis":null},"y":{"field":"t","type":"nominal","scale":{"type":"point","range":[18,18],"padding":0},"axis":null}}},
{"data":{"values":[{"t":"24H"}]},"mark":{"type":"text","font":"Inter","fontSize":14,"fontWeight":600,"color":"#4B5563"},"encoding":{"text":{"field":"t"},"x":{"field":"t","type":"nominal","scale":{"type":"point","range":[1007,1007],"padding":0},"axis":null},"y":{"field":"t","type":"nominal","scale":{"type":"point","range":[107,107],"padding":0},"axis":null}}},
{"data":{"values":[{"t":"7D"},{"t":"1M"},{"t":"3M"},{"t":"1Y"}]},"mark":{"type":"text","font":"Inter","fontSize":14,"fontWeight":600,"color":"#4B5563"},"encoding":{"text":{"field":"t"},"x":{"field":"t","type":"nominal","sort":null,"scale":{"type":"point","domain":["7D","1M","3M","1Y"],"range":[1055,1187],"padding":0},"axis":null},"y":{"field":"t","type":"nominal","scale":{"type":"point","domain":["7D","1M","3M","1Y"],"range":[107,107],"padding":0},"axis":null}}},
{"data":{"values":[{"t":"Max"}]},"mark":{"type":"text","font":"Inter","fontSize":14,"fontWeight":700,"color":"#1F2937"},"encoding":{"text":{"field":"t"},"x":{"field":"t","type":"nominal","scale":{"type":"point","range":[1234,1234],"padding":0},"axis":null},"y":{"field":"t","type":"nominal","scale":{"type":"point","range":[107,107],"padding":0},"axis":null}}},
{"data":{"name":"dom"},"transform":[{"fold":["BTC","ETH","Stablecoins","Others"],"as":["series","share"]},{"stack":"share","groupby":["d"],"as":["y0","y1"]}],"mark":{"type":"area","opacity":0.75,"line":{"strokeWidth":1.4,"opacity":1}},"encoding":{"x":{"field":"d","type":"temporal","scale":{"domain":[{"year":2013,"month":5,"date":2},{"year":2025,"month":9,"date":8}],"range":[35,1191]},"axis":{"title":null,"orient":"bottom","offset":-163,"domain":false,"grid":false,"tickCount":{"interval":"year"},"format":"%Y","tickSize":5,"tickColor":"#E5E9EF","labelPadding":4,"labelFont":"Inter","labelFontSize":12,"labelColor":"#6B7A8C","labelFlush":false,"labelOverlap":false}},"y":{"field":"y1","type":"quantitative","scale":{"domain":[0,100],"range":[483,174]},"axis":{"title":null,"orient":"right","offset":-96,"domain":false,"grid":false,"values":[0,25,50,75,100],"labelExpr":"format(datum.value,'.2f')+'%'","tickSize":-1156,"tickColor":"#E6EAEE","labelPadding":1170,"labelOffset":-6,"labelFont":"Inter","labelFontSize":12,"labelColor":"#6B7A8C","labelAlign":"left","labelFlush":false}},"y2":{"field":"y0"},"color":{"field":"series","type":"nominal","scale":{"domain":["BTC","ETH","Stablecoins","Others"],"range":["#F29D4F","#FFE566","#9FD657","#CBD5E1"]},"legend":{"title":null,"orient":"none","legendX":486,"legendY":589,"direction":"horizontal","symbolType":"circle","symbolSize":170,"symbolOpacity":1,"symbolStrokeWidth":0,"columnPadding":21,"labelOffset":7,"labelFont":"Inter","labelFontSize":13,"labelFontWeight":700,"labelColor":"#334155"}}}},
{"data":{"values":[{"t":"disc"}]},"mark":{"type":"point","filled":true,"size":450,"color":"#FBDC6B","opacity":0.9},"encoding":{"x":{"field":"t","type":"nominal","scale":{"type":"point","range":[1091,1091],"padding":0},"axis":null},"y":{"field":"t","type":"nominal","scale":{"type":"point","range":[456,456],"padding":0},"axis":null}}},
{"data":{"values":[{"t":"beak"}]},"mark":{"type":"point","filled":true,"size":420,"color":"#9CBF2E","opacity":1,"shape":"M-0.6,-0.7 C-0.2,-1 0.5,-0.9 0.55,-0.5 C0.6,-0.2 0.7,0.1 0.4,0.3 C0.2,0.5 0,0.7 -0.6,0.85 C-0.7,0.3 -0.7,-0.3 -0.6,-0.7 Z"},"encoding":{"x":{"field":"t","type":"nominal","scale":{"type":"point","range":[1091,1091],"padding":0},"axis":null},"y":{"field":"t","type":"nominal","scale":{"type":"point","range":[456,456],"padding":0},"axis":null}}},
{"data":{"values":[{"t":"coingecko"}]},"mark":{"type":"text","align":"left","font":"Inter","fontSize":13.8,"fontWeight":700,"color":"#7A5B3C"},"encoding":{"text":{"field":"t"},"x":{"field":"t","type":"nominal","scale":{"type":"point","range":[1110,1110],"padding":0},"axis":null},"y":{"field":"t","type":"nominal","scale":{"type":"point","range":[455,455],"padding":0},"axis":null}}},
{"data":{"values":[{"t":"nav"}]},"mark":{"type":"rect","fill":"#D9E0F0","stroke":"#CDD5E4","strokeWidth":1},"encoding":{"x":{"field":"t","type":"nominal","scale":{"type":"band","domain":["nav"],"range":[34,1191],"paddingInner":0,"paddingOuter":0},"axis":null},"y":{"field":"t","type":"nominal","scale":{"type":"band","domain":["nav"],"range":[532,572],"paddingInner":0,"paddingOuter":0},"axis":null}}},
{"data":{"name":"dom"},"mark":{"type":"area","color":"#C9C2A8","opacity":0.2},"encoding":{"x":{"field":"d","type":"temporal","scale":{"domain":[{"year":2013,"month":5,"date":2},{"year":2025,"month":9,"date":8}],"range":[34,1191]},"axis":{"title":null,"orient":"bottom","offset":-74,"zindex":1,"domain":false,"grid":false,"tickCount":{"interval":"year","step":2},"format":"%Y","tickSize":-40,"tickColor":"#C3CAD9","labelPadding":26,"labelOffset":4,"labelAlign":"left","labelFont":"Inter","labelFontSize":12,"labelColor":"#9AA1B2","labelFlush":false,"labelOverlap":false}},"y":{"field":"BTC","type":"quantitative","scale":{"domain":[23,100],"range":[572,532]},"axis":null},"y2":{"datum":23}}},
{"data":{"name":"dom"},"mark":{"type":"line","color":"#D8A98C","strokeWidth":1},"encoding":{"x":{"field":"d","type":"temporal","scale":{"domain":[{"year":2013,"month":5,"date":2},{"year":2025,"month":9,"date":8}],"range":[34,1191]},"axis":null},"y":{"field":"BTC","type":"quantitative","scale":{"domain":[23,100],"range":[572,532]},"axis":null}}},
{"data":{"values":[{"t":"start","g":"handle"},{"t":"end","g":"handle"}]},"mark":{"type":"rect","fill":"#ffffff","stroke":"#BBC3D0","strokeWidth":1,"cornerRadius":1},"encoding":{"x":{"field":"t","type":"nominal","scale":{"type":"band","domain":["start","end"],"range":[30.5,1194.5],"paddingInner":0.994,"paddingOuter":0},"axis":null},"y":{"field":"g","type":"nominal","scale":{"type":"band","domain":["handle"],"range":[544,559],"paddingInner":0,"paddingOuter":0},"axis":null}}},
{"data":{"values":[{"t":"start","g":"handle"},{"t":"end","g":"handle"}]},"mark":{"type":"point","filled":false,"opacity":1,"size":100,"stroke":"#BBC3D0","strokeWidth":1,"shape":"M-0.2,-1 V1 M0.2,-1 V1"},"encoding":{"x":{"field":"t","type":"nominal","scale":{"type":"point","domain":["start","end"],"range":[34,1191],"padding":0},"axis":null},"y":{"field":"g","type":"nominal","scale":{"type":"point","domain":["handle"],"range":[551.5,551.5],"padding":0},"axis":null}}}
],
"resolve":{"scale":{"x":"independent","y":"independent","color":"independent"},"axis":{"x":"independent","y":"independent"},"legend":{"color":"independent"}}}
